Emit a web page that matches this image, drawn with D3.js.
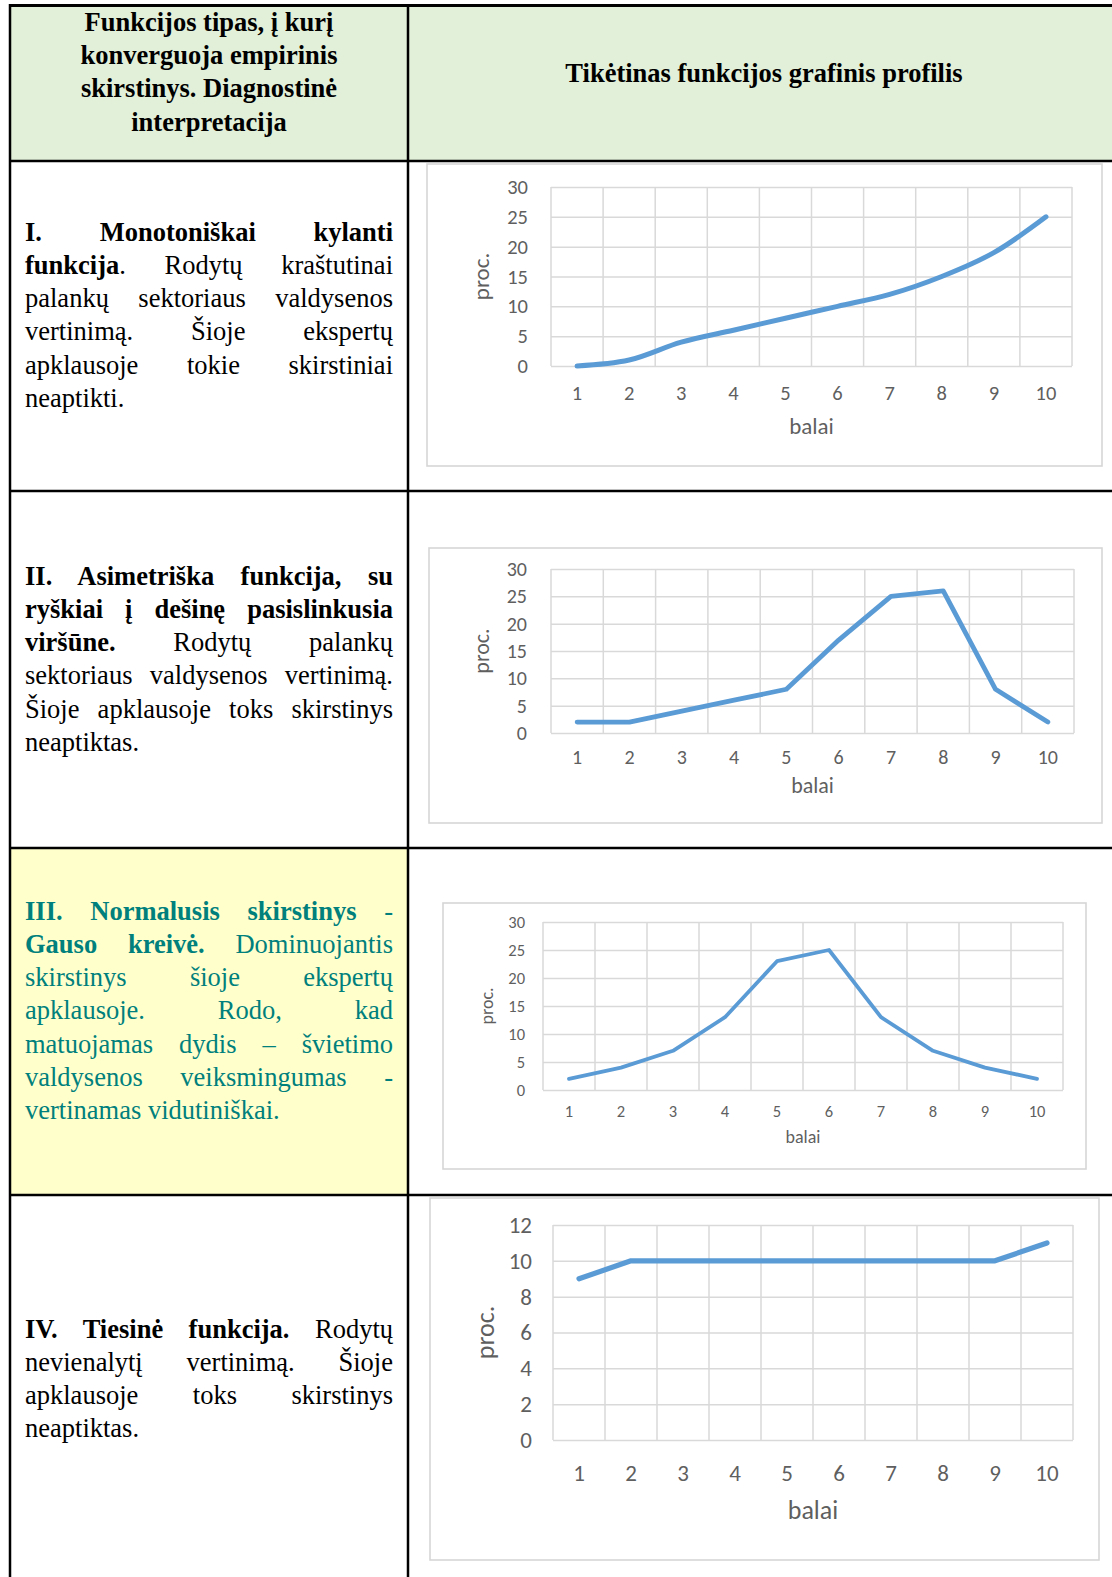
<!DOCTYPE html>
<html lang="lt">
<head>
<meta charset="utf-8">
<script src="https://cdn.jsdelivr.net/npm/d3@7"></script>
<style>
  html, body { margin: 0; padding: 0; background: #ffffff; }
  #page { position: relative; width: 1112px; height: 1577px; overflow: hidden; }
  #page svg { position: absolute; left: 0; top: 0; }
  .line { position: absolute; white-space: nowrap; font-family: "Liberation Serif", "Times New Roman", serif;
          font-size: 26.5px; line-height: 33px; height: 33px; color: #000; }
  .just { text-align: justify; text-align-last: justify; }
  .center { text-align: center; font-weight: bold; }
  .teal { color: #00807c; }
</style>
</head>
<body>
<div id="page"></div>
<script>
// ---- data -------------------------------------------------------------
const balai = [1, 2, 3, 4, 5, 6, 7, 8, 9, 10];
const kylanti     = [0, 1, 4, 6, 8, 10, 12, 15, 19, 25];
const asimetriska = [2, 2, 4, 6, 8, 17, 25, 26, 8, 2];
const normalusis  = [2, 4, 7, 13, 23, 25, 13, 7, 4, 2];
const tiesine     = [9, 10, 10, 10, 10, 10, 10, 10, 10, 11];
const ticks30 = [0, 5, 10, 15, 20, 25, 30];
const ticks12 = [0, 2, 4, 6, 8, 10, 12];
const xTitle = "balai";
const yTitle = "proc.";

const headerLeft = ["Funkcijos tipas, į kurį", "konverguoja empirinis", "skirstinys. Diagnostinė", "interpretacija"];
const headerRight = "Tikėtinas funkcijos grafinis profilis";

// each line: list of [text, bold]
const textI = [
  [["I. Monotoniškai kylanti", true]],
  [["funkcija", true], [". Rodytų kraštutinai", false]],
  [["palankų sektoriaus valdysenos", false]],
  [["vertinimą. Šioje ekspertų", false]],
  [["apklausoje tokie skirstiniai", false]],
  [["neaptikti.", false]]
];
const textII = [
  [["II. Asimetriška funkcija, su", true]],
  [["ryškiai į dešinę pasislinkusia", true]],
  [["viršūne.", true], [" Rodytų palankų", false]],
  [["sektoriaus valdysenos vertinimą.", false]],
  [["Šioje apklausoje toks skirstinys", false]],
  [["neaptiktas.", false]]
];
const textIII = [
  [["III. Normalusis skirstinys", true], [" -", false]],
  [["Gauso kreivė.", true], [" Dominuojantis", false]],
  [["skirstinys šioje ekspertų", false]],
  [["apklausoje. Rodo, kad", false]],
  [["matuojamas dydis – švietimo", false]],
  [["valdysenos veiksmingumas -", false]],
  [["vertinamas vidutiniškai.", false]]
];
const textIV = [
  [["IV. Tiesinė funkcija.", true], [" Rodytų", false]],
  [["nevienalytį vertinimą. Šioje", false]],
  [["apklausoje toks skirstinys", false]],
  [["neaptiktas.", false]]
];

// ---- layout -----------------------------------------------------------
const W = 1112, H = 1577;
const colLeft = 10, colMid = 408;
const rowLines = [161, 491, 848, 1195];

const page = d3.select("#page");
const svg = page.append("svg").attr("width", W).attr("height", H);

// cell backgrounds
svg.append("rect").attr("x", colLeft).attr("y", 5).attr("width", W - colLeft).attr("height", rowLines[0] - 5).attr("fill", "#e2efd9");
svg.append("rect").attr("x", colLeft).attr("y", rowLines[2]).attr("width", colMid - colLeft).attr("height", rowLines[3] - rowLines[2]).attr("fill", "#ffffcc");

// ---- charts -----------------------------------------------------------
const charts = [
  { values: kylanti, ticks: ticks30, frame: [427, 164, 1102, 466], plot: [551, 187, 1072, 366], yLabRight: 528,
    tickFont: 20.5, titleFont: 23, xLabY: 393, titleY: 425.5, procX: 481, lineW: 5, smooth: true },
  { values: asimetriska, ticks: ticks30, frame: [429, 548, 1102, 823], plot: [551, 569, 1074, 733], yLabRight: 527,
    tickFont: 20, titleFont: 22, xLabY: 757, titleY: 785, procX: 481, lineW: 4.8, smooth: false },
  { values: normalusis, ticks: ticks30, frame: [443, 903, 1086, 1169], plot: [543, 922, 1063, 1090], yLabRight: 525,
    tickFont: 16.5, titleFont: 18, xLabY: 1111, titleY: 1137, procX: 487, lineW: 3.8, smooth: false },
  { values: tiesine, ticks: ticks12, frame: [430, 1198, 1099, 1560], plot: [553, 1225, 1073, 1440], yLabRight: 532,
    tickFont: 23, titleFont: 26, xLabY: 1473, titleY: 1510, procX: 485, lineW: 5.2, smooth: false }
];

const gridColor = "#d9d9d9";
const labelColor = "#5f5f5f";
const chartFont = "Carlito, Lato, 'Liberation Sans', sans-serif";

charts.forEach(c => {
  const [fx0, fy0, fx1, fy1] = c.frame;
  const [px0, py0, px1, py1] = c.plot;
  const g = svg.append("g");

  g.append("rect").attr("x", fx0).attr("y", fy0).attr("width", fx1 - fx0).attr("height", fy1 - fy0)
    .attr("fill", "#ffffff").attr("stroke", "#d6d6d6").attr("stroke-width", 1.6);

  const x = d3.scaleBand().domain(balai).range([px0, px1]).paddingInner(0).paddingOuter(0);
  const y = d3.scaleLinear().domain([0, d3.max(c.ticks)]).range([py1, py0]);

  // horizontal grid
  g.append("g").attr("transform", `translate(${px0},0)`)
    .call(d3.axisLeft(y).tickValues(c.ticks).tickSize(-(px1 - px0)).tickFormat(""))
    .call(a => a.select(".domain").remove())
    .call(a => a.selectAll("line").attr("stroke", gridColor).attr("stroke-width", 1.5));

  // vertical grid at category boundaries
  const edges = balai.map(b => x(b)).concat([x(balai[balai.length - 1]) + x.bandwidth()]);
  g.append("g").selectAll("line").data(edges).join("line")
    .attr("x1", d => d).attr("x2", d => d).attr("y1", py0).attr("y2", py1)
    .attr("stroke", gridColor).attr("stroke-width", 1.5);

  // y tick labels
  g.append("g").attr("transform", `translate(${px0},0)`)
    .call(d3.axisLeft(y).tickValues(c.ticks).tickSize(0).tickPadding(px0 - c.yLabRight))
    .call(a => a.select(".domain").remove())
    .call(a => a.selectAll("text").attr("fill", labelColor).style("font-family", chartFont).style("font-size", c.tickFont + "px"));

  // x tick labels
  const pad = c.xLabY - py1 - 0.36 * c.tickFont;
  g.append("g").attr("transform", `translate(0,${py1})`)
    .call(d3.axisBottom(x).tickSize(0).tickPadding(pad))
    .call(a => a.select(".domain").remove())
    .call(a => a.selectAll("text").attr("fill", labelColor).style("font-family", chartFont).style("font-size", c.tickFont + "px"));

  // axis titles
  g.append("text").attr("x", (px0 + px1) / 2).attr("y", c.titleY).attr("dy", "0.35em")
    .attr("text-anchor", "middle").attr("fill", labelColor)
    .style("font-family", chartFont).style("font-size", c.titleFont + "px").text(xTitle);
  g.append("text").attr("transform", `translate(${c.procX},${(py0 + py1) / 2}) rotate(-90)`).attr("dy", "0.35em")
    .attr("text-anchor", "middle").attr("fill", labelColor)
    .style("font-family", chartFont).style("font-size", c.titleFont + "px").text(yTitle);

  // the profile line
  const line = d3.line()
    .x((d, i) => x(balai[i]) + x.bandwidth() / 2)
    .y(d => y(d))
    .curve(c.smooth ? d3.curveCatmullRom.alpha(0.5) : d3.curveLinear);
  g.append("path").datum(c.values).attr("d", line)
    .attr("fill", "none").attr("stroke", "#5b9bd5").attr("stroke-width", c.lineW)
    .attr("stroke-linejoin", "round").attr("stroke-linecap", "round");
});

// ---- table rules ------------------------------------------------------
const rule = (x1, y1, x2, y2, w) => svg.append("line").attr("x1", x1).attr("y1", y1).attr("x2", x2).attr("y2", y2)
  .attr("stroke", "#000").attr("stroke-width", w);
rule(colLeft, 5.5, W, 5.5, 3);
rule(colLeft, 4, colLeft, H, 2.5);
rule(colMid, 4, colMid, H, 2.5);
rowLines.forEach(r => rule(colLeft, r, W, r, 2.5));

// ---- text cells -------------------------------------------------------
function addLines(lines, centers, cls) {
  lines.forEach((segs, i) => {
    const last = i === lines.length - 1;
    const div = page.append("div").attr("class", "line " + (last ? "" : "just ") + (cls || ""))
      .style("left", "25px").style("width", "368px").style("top", (centers[i] - 16) + "px");
    segs.forEach(([t, b]) => div.append("span").style("font-weight", b ? "bold" : "normal").text(t));
  });
}
const spaced = (start, n) => d3.range(n).map(i => start + i * 33.15);

addLines(textI, spaced(232, textI.length));
addLines(textII, spaced(576, textII.length));
addLines(textIII, spaced(911, textIII.length), "teal");
addLines(textIV, spaced(1329, textIV.length));

headerLeft.forEach((t, i) => {
  page.append("div").attr("class", "line center")
    .style("left", colLeft + "px").style("width", (colMid - colLeft) + "px")
    .style("top", (22 + i * 33.2 - 16) + "px").text(t);
});
page.append("div").attr("class", "line center")
  .style("left", colMid + "px").style("width", (W - colMid + 8) + "px")
  .style("top", (73 - 16) + "px").text(headerRight);
</script>
</body>
</html>
